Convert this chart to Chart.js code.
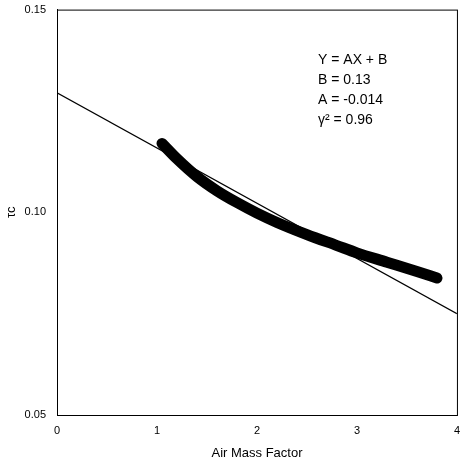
<!DOCTYPE html>
<html>
<head>
<meta charset="UTF-8">
<script src="https://cdn.jsdelivr.net/npm/chart.js"></script>
<style>
  html, body { margin: 0; padding: 0; background: #fff; }
  #wrap { width: 464px; height: 465px; }
</style>
</head>
<body>
<div id="wrap"><canvas id="c"></canvas></div>
<script>
// data
const curveX = [1.05, 1.2, 1.4, 1.6, 1.8, 2.0, 2.2, 2.5, 2.8, 3.0, 3.3, 3.6, 3.8];
const curveY = [0.117, 0.1132, 0.1088, 0.1053, 0.1024, 0.0998, 0.0975, 0.0945, 0.0918, 0.0900, 0.0877, 0.0854, 0.0838];
const fitX = [0, 4];
const fitY = [0.1295, 0.075];
const xTicks = [0, 1, 2, 3, 4];
const yTicks = [0.05, 0.10, 0.15];
const notes = ['Y = AX + B', 'B = 0.13', 'A = -0.014', 'γ² = 0.96'];

const font = 'Liberation Sans, Arial, sans-serif';

// frame + text box
const frame = {
  id: 'frame',
  afterDraw(chart) {
    const { ctx, chartArea: a } = chart;
    ctx.save();
    ctx.strokeStyle = '#000';
    ctx.lineWidth = 1;
    ctx.strokeRect(a.left + 0.5, a.top + 0.5, a.right - a.left, a.bottom - a.top);
    ctx.fillStyle = '#000';
    ctx.font = '14px ' + font;
    notes.forEach((t, i) => ctx.fillText(t, 318, 64 + i * 20));
    ctx.restore();
  }
};

new Chart(document.getElementById('c'), {
  type: 'scatter',
  data: {
    datasets: [
      {
        data: curveX.map((x, i) => ({ x: x, y: curveY[i] })),
        showLine: true, borderColor: '#000', borderWidth: 11,
        borderCapStyle: 'round', pointRadius: 0, cubicInterpolationMode: 'monotone'
      },
      {
        data: fitX.map((x, i) => ({ x: x, y: fitY[i] })),
        showLine: true, borderColor: '#000', borderWidth: 1.2, pointRadius: 0
      }
    ]
  },
  options: {
    responsive: true, maintainAspectRatio: false, animation: false,
    layout: { padding: { top: 7, right: 5, left: 0, bottom: 0 } },
    plugins: { legend: { display: false }, tooltip: { enabled: false } },
    scales: {
      x: {
        min: 0, max: 4,
        afterBuildTicks: s => { s.ticks = xTicks.map(v => ({ value: v })); },
        afterFit: s => { s.height = 50; },
        grid: { display: false, drawTicks: true, tickLength: 5 },
        border: { color: '#000' },
        ticks: { color: '#000', font: { family: font, size: 11 }, padding: 4 },
        title: { display: true, text: 'Air Mass Factor', color: '#000', font: { family: font, size: 13 }, padding: { top: 6 } }
      },
      y: {
        min: 0.05, max: 0.15,
        afterBuildTicks: s => { s.ticks = yTicks.map(v => ({ value: v })); },
        afterFit: s => { s.width = 57; },
        grid: { display: false },
        border: { color: '#000' },
        ticks: { color: '#000', font: { family: font, size: 11 }, callback: v => v.toFixed(2) },
        title: { display: true, text: 'τc', color: '#000', font: { family: font, size: 13 } }
      }
    }
  },
  plugins: [frame]
});
</script>
</body>
</html>
